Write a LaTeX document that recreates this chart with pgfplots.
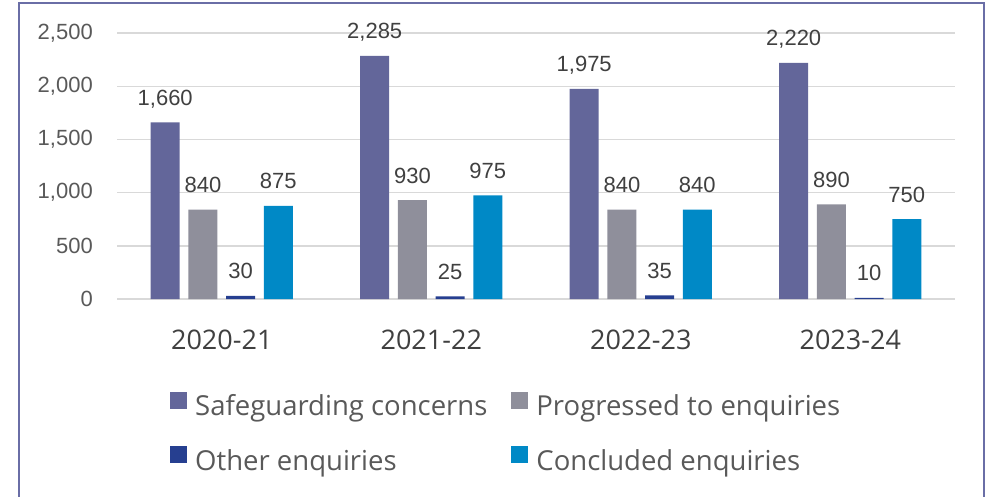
\documentclass[border=0pt]{standalone}
\usepackage{pgfplots}
\pgfplotsset{compat=1.18}
\usepackage{fontspec}
\setmainfont{Open Sans}
\newfontfamily\numfont{Liberation Sans}
\definecolor{cSafe}{HTML}{63669A}
\definecolor{cProg}{HTML}{8F8F9B}
\definecolor{cOther}{HTML}{263F90}
\definecolor{cConc}{HTML}{0089C6}
\definecolor{cFrame}{HTML}{6A6EA6}
\definecolor{cGrid}{HTML}{D9D9D9}
\definecolor{cText}{HTML}{404040}
\definecolor{cTick}{HTML}{595959}
\begin{document}
\begin{tikzpicture}[x=1pt,y=1pt]
\useasboundingbox (0,0) rectangle (993,496);
\begin{scope}
\clip (0,0) rectangle (993,496);
\draw[cFrame, line width=2pt] (19,-10) -- (19,493) -- (984,493) -- (984,-10);
\end{scope}
\begin{axis}[
  at={(117pt,197pt)}, anchor=south west,
  scale only axis, width=838pt, height=266pt,
  xmin=-0.5, xmax=3.5, ymin=0, ymax=2500,
  ybar=8.7pt, bar width=29pt,
  xtick={0,1,2,3}, xticklabels={2020-21,2021-22,2022-23,2023-24},
  ytick={0,500,1000,1500,2000,2500},
  ymajorgrids, grid style={cGrid, line width=1.4pt},
  axis line style={draw=none},
  major tick length=0pt,
  /pgf/number format/assume math mode=true,
  /pgf/number format/1000 sep={,},
  yticklabel style={font=\numfont\fontsize{22}{26}\selectfont, text=cTick, inner sep=0pt, anchor=east, xshift=-24pt},
  xticklabel style={font=\fontsize{27}{32}\selectfont, text=cText, inner sep=0pt, anchor=north, yshift=-31pt},
  nodes near coords,
  every node near coord/.append style={font=\numfont\fontsize{22}{26}\selectfont, text=cText, anchor=base, inner sep=0pt, yshift=17pt},
  legend style={at={(0.0632,-0.3496)}, anchor=north west, draw=none, fill=none,
    font=\fontsize{27.5}{32}\selectfont, text=cTick, inner xsep=0pt, inner ysep=0pt,
    nodes={inner sep=0pt},
    /tikz/every odd column/.append style={column sep=8pt},
    /tikz/every even column/.append style={column sep=24pt}, row sep=29pt},
  legend columns=2, legend cell align=left,
]
\addplot[fill=cSafe, draw=none, legend image code/.code={\fill[cSafe] (0pt,-3pt) rectangle (17pt,14pt);}]
  coordinates {(0,1660) (1,2285) (2,1975) (3,2220)};
\addplot[fill=cProg, draw=none, legend image code/.code={\fill[cProg] (0pt,-3pt) rectangle (17pt,14pt);}]
  coordinates {(0,840) (1,930) (2,840) (3,890)};
\addplot[fill=cOther, draw=none, legend image code/.code={\fill[cOther] (0pt,-3pt) rectangle (17pt,14pt);}]
  coordinates {(0,30) (1,25) (2,35) (3,10)};
\addplot[fill=cConc, draw=none, legend image code/.code={\fill[cConc] (0pt,-3pt) rectangle (17pt,14pt);}]
  coordinates {(0,875) (1,975) (2,840) (3,750)};
\legend{Safeguarding concerns, Progressed to enquiries, Other enquiries, Concluded enquiries}
\end{axis}
\end{tikzpicture}
\end{document}
